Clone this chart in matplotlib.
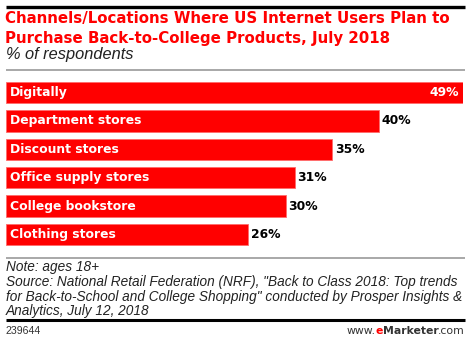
import matplotlib
matplotlib.use("Agg")
import matplotlib.pyplot as plt
from matplotlib.lines import Line2D

categories = ["Digitally", "Department stores", "Discount stores",
              "Office supply stores", "College bookstore", "Clothing stores"]
values = [49, 40, 35, 31, 30, 26]
value_labels = ["49%", "40%", "35%", "31%", "30%", "26%"]

title_lines = ["Channels/Locations Where US Internet Users Plan to",
               "Purchase Back-to-College Products, July 2018"]
subtitle = "% of respondents"
note = ("Note: ages 18+\n"
        "Source: National Retail Federation (NRF), \"Back to Class 2018: Top trends\n"
        "for Back-to-School and College Shopping\" conducted by Prosper Insights &\n"
        "Analytics, July 12, 2018")
chart_id = "239644"

W, H = 470, 342
fig = plt.figure(figsize=(W / 100, H / 100), dpi=100)
RED = "#ff0000"

def fx(x):
    return x / W

def fy(y):
    return 1 - y / H

def hline(y, x0, x1, color, lw):
    fig.add_artist(Line2D([fx(x0), fx(x1)], [fy(y), fy(y)], color=color,
                          linewidth=lw, transform=fig.transFigure,
                          solid_capstyle="butt"))

# rules
hline(6.5, 6, 465, "black", 2.4)
hline(69.5, 6, 465, "#999999", 1.2)
hline(258, 6, 465, "#999999", 1.2)
hline(319.5, 6, 465, "black", 2.2)

# title
fig.text(fx(5), fy(19), title_lines[0],
         color=RED, fontsize=10.8, fontweight="bold",
         family="DejaVu Sans", va="center", ha="left")
fig.text(fx(5), fy(38.5), title_lines[1],
         color=RED, fontsize=10.8, fontweight="bold",
         family="DejaVu Sans", va="center", ha="left")
fig.text(fx(6), fy(55), subtitle, color="#222222", fontsize=11.8, style="italic",
         family="Liberation Sans", va="center", ha="left")

# bars axes
top_px, bot_px = 78.3, 248.7
ax = fig.add_axes([fx(6), fy(bot_px), 457 / W, (bot_px - top_px) / H])
ypos = list(range(len(categories)))
ax.barh(ypos, values, height=0.76, color=RED, edgecolor="#ff6b6b", linewidth=0.6)
ax.set_xlim(0, 49)
ax.set_ylim(len(categories) - 0.5, -0.5)
ax.axis("off")

for i, (c, v, lab) in enumerate(zip(categories, values, value_labels)):
    ax.text(0.42, i, c, color="white", fontsize=8.9, fontweight="bold",
            family="DejaVu Sans", va="center", ha="left")
    if i == 0:
        ax.text(v - 0.45, i, lab, color="white", fontsize=8.9, fontweight="bold",
                family="DejaVu Sans", va="center", ha="right")
    else:
        ax.text(v + 0.25, i, lab, color="black", fontsize=8.9, fontweight="bold",
                family="DejaVu Sans", va="center", ha="left")

# note / source
fig.text(fx(6), fy(260), note, color="#222222", fontsize=9.8, style="italic",
         family="Liberation Sans", va="top", ha="left", linespacing=1.07)

# footer
fig.text(fx(6), fy(331), chart_id, color="#333333", fontsize=7.6,
         family="Liberation Sans", va="center", ha="left")

renderer = fig.canvas.get_renderer()
x_right = 465
pieces = [(".com", "normal", "#333333"), ("Marketer", "bold", "#333333"),
          ("e", "bold", RED), ("www.", "normal", "#333333")]
for txt, wt, col in pieces:
    t = fig.text(fx(x_right), fy(331), txt, color=col, fontsize=7.8, fontweight=wt,
                 family="DejaVu Sans", va="center", ha="right")
    bb = t.get_window_extent(renderer=renderer)
    x_right -= bb.width

fig.savefig("out.png", dpi=100)
